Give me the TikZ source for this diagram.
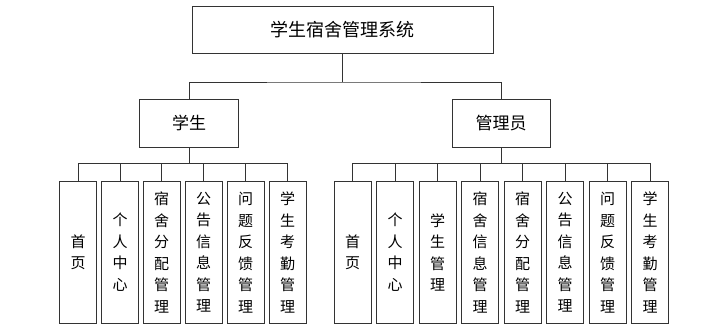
\documentclass[tikz,border=0pt]{standalone}
\usepackage{fontspec}
\newfontfamily\cjk{Noto Sans CJK SC}
\begin{document}
\begin{tikzpicture}[x=1pt,y=-1pt,
  box/.style={draw=black!80,line width=0.8pt,fill=white,inner sep=0pt,font=\cjk},
  leaf/.style={box,minimum width=37pt,minimum height=142pt,anchor=north,align=center,font=\cjk\fontsize{15}{21.5}\selectfont},
  conn/.style={draw=black!80,line width=0.9pt}]
\useasboundingbox (0,0) rectangle (725,335);
\node[box,minimum width=301pt,minimum height=47pt,font=\cjk\fontsize{18}{20}\selectfont] (root) at (342.5,29.5) {学生宿舍管理系统};
\node[box,minimum width=99pt,minimum height=48pt,font=\cjk\fontsize{17}{20}\selectfont] (stu) at (189,123) {学生};
\node[box,minimum width=98pt,minimum height=48pt,font=\cjk\fontsize{17}{20}\selectfont] (adm) at (501,123) {管理员};
% student leaves
\node[leaf] (s1) at (78,181) {首\\页};
\node[leaf] (s2) at (120,181) {个\\人\\中\\心};
\node[leaf] (s3) at (161.5,181) {宿\\舍\\分\\配\\管\\理};
\node[leaf] (s4) at (203.5,181) {公\\告\\信\\息\\管\\理};
\node[leaf] (s5) at (245.5,181) {问\\题\\反\\馈\\管\\理};
\node[leaf] (s6) at (287.5,181) {学\\生\\考\\勤\\管\\理};
% admin leaves
\node[leaf] (a1) at (352.5,181) {首\\页};
\node[leaf] (a2) at (395,181) {个\\人\\中\\心};
\node[leaf] (a3) at (437.5,181) {学\\生\\管\\理};
\node[leaf] (a4) at (480,181) {宿\\舍\\信\\息\\管\\理};
\node[leaf] (a5) at (522.5,181) {宿\\舍\\分\\配\\管\\理};
\node[leaf] (a6) at (565,181) {公\\告\\信\\息\\管\\理};
\node[leaf] (a7) at (607.5,181) {问\\题\\反\\馈\\管\\理};
\node[leaf] (a8) at (650,181) {学\\生\\考\\勤\\管\\理};
% connectors
\coordinate (bus0) at (342.5,82);
\draw[conn] (root.south) -- (bus0);
\draw[conn] (stu.north) |- (bus0) -| (adm.north);
\coordinate (bus1) at (189,163);
\draw[conn] (stu.south) -- (bus1);
\foreach \n in {s1,s2,s3,s4,s5,s6}{\draw[conn] (\n.north) |- (bus1);}
\coordinate (bus2) at (501,163);
\draw[conn] (adm.south) -- (bus2);
\foreach \n in {a1,a2,a3,a4,a5,a6,a7,a8}{\draw[conn] (\n.north) |- (bus2);}
\end{tikzpicture}
\end{document}
